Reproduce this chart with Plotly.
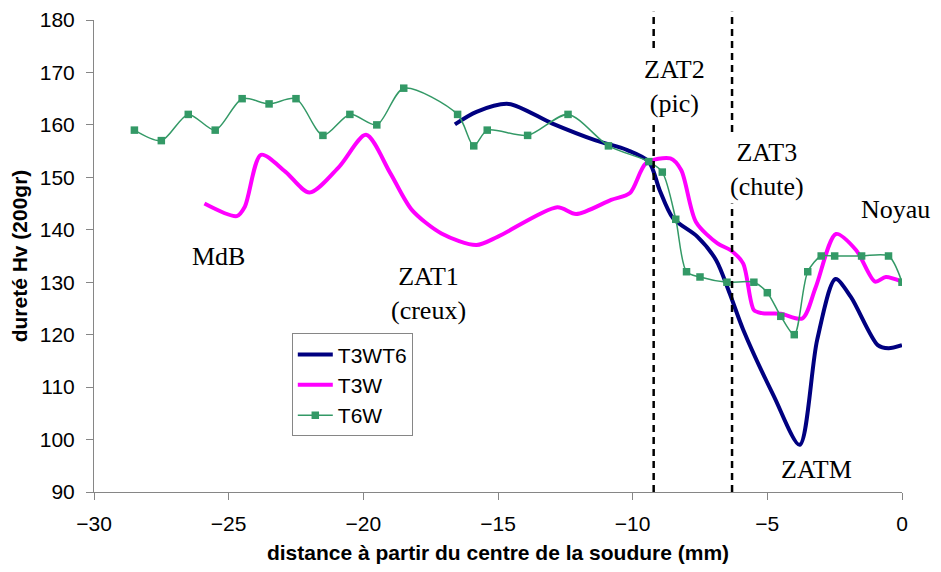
import plotly.graph_objects as go

# T3WT6 (navy)
x_t3wt6 = [-16.6, -15.8, -14.6, -13.0, -11.4, -10.2, -9.4, -9.0, -8.5, -7.6, -6.9, -6.4, -5.9, -4.75, -3.8, -3.15, -2.47, -1.9, -0.9, -0.5, 0.0]
y_t3wt6 = [160.1, 162.5, 164.0, 160.3, 157.1, 155.2, 153.0, 147.6, 142.2, 138.7, 134.2, 127.9, 121.0, 108.2, 99.0, 119.0, 130.6, 127.2, 118.0, 117.4, 118.0]

# T3W (magenta)
x_t3w = [-25.9, -24.7, -24.4, -23.8, -22.9, -22.0, -20.9, -19.9, -19.0, -18.2, -17.1, -15.8, -15.0, -12.8, -12.1, -10.8, -10.1, -9.5, -8.6, -8.2, -7.65, -6.85, -6.36, -5.9, -5.5, -5.2, -4.5, -3.7, -3.2, -2.45, -1.7, -1.0, -0.6, 0.0]
y_t3w = [145.0, 142.6, 144.4, 154.3, 151.1, 147.1, 152.0, 158.1, 150.8, 143.8, 139.3, 137.1, 138.7, 144.3, 143.0, 145.7, 147.0, 152.7, 153.6, 151.4, 141.5, 137.4, 136.1, 133.6, 124.7, 124.1, 124.0, 123.1, 129.1, 139.2, 136.1, 130.1, 131.0, 130.1]

# T6W (green, markers)
x_t6w = [-28.5, -27.5, -26.5, -25.5, -24.5, -23.5, -22.5, -21.5, -20.5, -19.5, -18.5, -16.5, -15.9, -15.4, -13.9, -12.4, -10.9, -9.4, -8.9, -8.4, -8.0, -7.5, -6.5, -5.5, -5.0, -4.5, -4.0, -3.5, -3.0, -2.5, -1.5, -0.5, 0.0]
y_t6w = [159, 157, 162, 159, 165, 164, 165, 158, 162, 160, 167, 162, 156, 159, 158, 162, 156, 153, 151, 142, 132, 131, 130, 130, 128, 123.5, 120, 132, 135, 135, 135, 135, 130]

# zone boundaries (dashed lines)
zone_x = [-9.22, -6.31]

# annotations: (text, x, y)
labels = [
    ("ZAT2<br>(pic)", -8.43, 167.4),
    ("ZAT3<br>(chute)", -5.0, 151.4),
    ("MdB", -25.36, 135.0),
    ("ZAT1<br>(creux)", -17.59, 127.9),
    ("ZATM", -3.19, 94.3),
]

x_ticks = [-30, -25, -20, -15, -10, -5, 0]
y_ticks = [90, 100, 110, 120, 130, 140, 150, 160, 170, 180]

sans = "Liberation Sans, Arial, sans-serif"
serif = "Liberation Serif, Times New Roman, serif"

fig = go.Figure()
fig.add_trace(go.Scatter(x=x_t3wt6, y=y_t3wt6, mode="lines", name="T3WT6",
                         line=dict(color="#000080", width=4, shape="spline", smoothing=0.8)))
fig.add_trace(go.Scatter(x=x_t3w, y=y_t3w, mode="lines", name="T3W",
                         line=dict(color="#FF00FF", width=4, shape="spline", smoothing=0.8)))
fig.add_trace(go.Scatter(x=x_t6w, y=y_t6w, mode="lines+markers", name="T6W",
                         line=dict(color="#339966", width=1.5, shape="spline", smoothing=0.8),
                         marker=dict(symbol="square", size=7.5, color="#339966")))

for zx in zone_x:
    fig.add_shape(type="line", xref="x", yref="paper", x0=zx, x1=zx, y0=0, y1=1.0176,
                  line=dict(color="black", width=2.5, dash="7px,5px"), layer="above")

for text, lx, ly in labels:
    fig.add_annotation(x=lx, y=ly, xref="x", yref="y", text=text, showarrow=False,
                       font=dict(family=serif, size=26, color="black"),
                       bgcolor="white", borderpad=2)
fig.add_annotation(x=1.036, y=143.9, xref="paper", yref="y", text="Noyau", showarrow=False,
                   xanchor="right", yanchor="middle", borderpad=0,
                   font=dict(family=serif, size=26, color="black"))

axis_common = dict(showgrid=False, zeroline=False, showline=True, linecolor="#868686", linewidth=1,
                   ticks="outside", ticklen=7, tickcolor="#868686", automargin=False,
                   tickfont=dict(family=sans, size=21, color="black"))

fig.update_xaxes(range=[-30, 0], tickvals=x_ticks, ticklabelstandoff=6, **axis_common,
                 title=dict(text="<b>distance à partir du centre de la soudure (mm)</b>",
                            font=dict(family=sans, size=21, color="black"),
                            standoff=17))
fig.update_yaxes(range=[90, 180], tickvals=y_ticks, ticklabelstandoff=7, **axis_common,
                 title=dict(text="<b>dureté Hv (200gr)</b>",
                            font=dict(family=sans, size=21, color="black"),
                            standoff=10))

fig.update_layout(
    width=925, height=556,
    margin=dict(l=86, r=31, t=12, b=72),
    plot_bgcolor="white", paper_bgcolor="white",
    legend=dict(x=0.2448, y=0.336, xanchor="left", yanchor="top",
                bordercolor="#868686", borderwidth=1, bgcolor="white",
                font=dict(family=sans, size=21, color="black"),
                tracegroupgap=0, itemwidth=35),
    showlegend=True,
)

fig.write_html("out.html")
